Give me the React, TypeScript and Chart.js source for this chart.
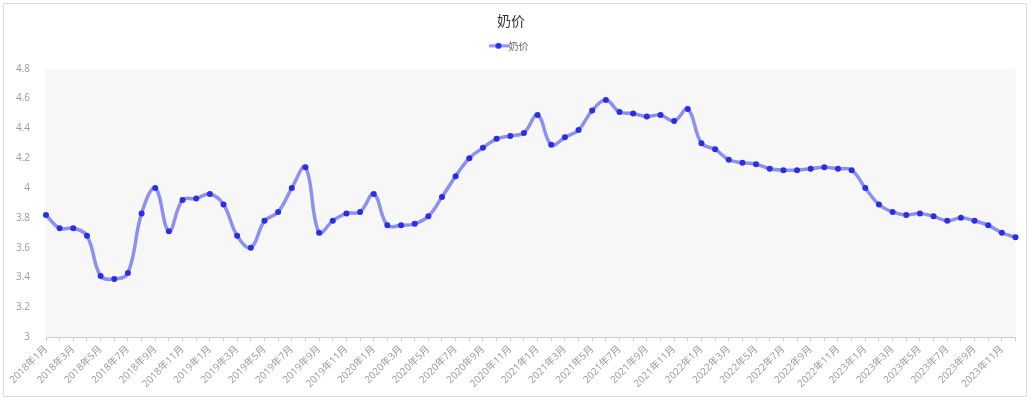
import React, { useEffect, useRef } from "react";
import { Chart, registerables } from "chart.js";

Chart.register(...registerables);

const years = [2018, 2019, 2020, 2021, 2022, 2023];
const months = [1, 2, 3, 4, 5, 6, 7, 8, 9, 10, 11, 12];
const categories: string[] = years.flatMap((y) => months.map((m) => `${y}年${m}月`));

const milkPrice = [
  3.82, 3.73, 3.73, 3.68, 3.41, 3.39, 3.43, 3.83, 4.0, 3.71, 3.92, 3.93,
  3.96, 3.89, 3.68, 3.6, 3.78, 3.84, 4.0, 4.14, 3.7, 3.78, 3.83, 3.84,
  3.96, 3.75, 3.75, 3.76, 3.81, 3.94, 4.08, 4.2, 4.27, 4.33, 4.35, 4.37,
  4.49, 4.29, 4.34, 4.39, 4.52, 4.59, 4.51, 4.5, 4.48, 4.49, 4.45, 4.53,
  4.3, 4.26, 4.19, 4.17, 4.16, 4.13, 4.12, 4.12, 4.13, 4.14, 4.13, 4.12,
  4.0, 3.89, 3.84, 3.82, 3.83, 3.81, 3.78, 3.8, 3.78, 3.75, 3.7, 3.67,
];

const seriesName = "奶价";
const FONT = "'Open Sans', 'Noto Sans CJK SC', sans-serif";
const LINE_COLOR = "rgba(105,109,235,0.75)";
const POINT_COLOR = "#2b2fe3";

const bgPlugin = {
  id: "plotBg",
  beforeDraw(chart: any) {
    const { ctx, chartArea } = chart;
    if (!chartArea) return;
    ctx.save();
    ctx.fillStyle = "#f7f7f8";
    ctx.fillRect(chartArea.left, chartArea.top, chartArea.right - chartArea.left, chartArea.bottom - chartArea.top);
    ctx.restore();
  },
};

const legendGapPlugin = {
  id: "legendGap",
  beforeInit(chart: any) {
    const legend = chart.legend;
    if (!legend) return;
    const orig = legend.fit;
    legend.fit = function () {
      orig.call(this);
      this.height += 8;
    };
  },
};

function legendSymbol(): HTMLCanvasElement {
  const c = document.createElement("canvas");
  const dpr = window.devicePixelRatio || 1;
  c.width = 20 * dpr;
  c.height = 8 * dpr;
  c.style.width = "20px";
  c.style.height = "8px";
  const g = c.getContext("2d")!;
  g.scale(dpr, dpr);
  g.strokeStyle = LINE_COLOR;
  g.lineWidth = 3;
  g.beginPath();
  g.moveTo(0, 4);
  g.lineTo(20, 4);
  g.stroke();
  g.fillStyle = POINT_COLOR;
  g.beginPath();
  g.arc(10, 4, 3, 0, Math.PI * 2);
  g.fill();
  return c;
}

export default function App() {
  const ref = useRef<HTMLCanvasElement>(null);
  useEffect(() => {
    if (!ref.current) return;
    const sym = legendSymbol();
    const chart = new Chart(ref.current, {
      type: "line",
      data: {
        labels: categories,
        datasets: [
          {
            label: seriesName,
            data: milkPrice,
            borderColor: LINE_COLOR,
            borderWidth: 3.5,
            tension: 0.4,
            pointRadius: 3,
            pointBackgroundColor: POINT_COLOR,
            pointBorderColor: POINT_COLOR,
            pointBorderWidth: 0,
            fill: false,
          },
        ],
      },
      options: {
        animation: false,
        responsive: true,
        maintainAspectRatio: false,
        layout: { padding: { left: 0, right: 8, top: 2, bottom: 4 } },
        plugins: {
          title: {
            display: true,
            text: "奶价",
            color: "#333",
            font: { family: "'Noto Sans CJK SC', sans-serif", size: 14, weight: "normal" },
            padding: { top: 6, bottom: 2 },
          },
          legend: {
            display: true,
            labels: {
              color: "#666",
              font: { family: "'Noto Sans CJK SC', sans-serif", size: 10 },
              usePointStyle: true,
              padding: 10,
              generateLabels: () => [
                {
                  text: seriesName,
                  pointStyle: sym as any,
                  fillStyle: POINT_COLOR,
                  strokeStyle: LINE_COLOR,
                  lineWidth: 0,
                  hidden: false,
                  datasetIndex: 0,
                  fontColor: "#666",
                } as any,
              ],
            },
          },
          tooltip: { enabled: false },
        },
        scales: {
          x: {
            grid: { display: true, drawOnChartArea: false, drawTicks: true, tickLength: 4, color: "#ccc" },
            border: { display: true, color: "#ccc" },
            ticks: {
              autoSkip: false,
              maxRotation: 45,
              minRotation: 45,
              color: "#999",
              font: { family: FONT, size: 10 },
              padding: 2,
              callback: (_v: any, i: number) => (i % 2 === 0 ? categories[i] : ""),
            },
          },
          y: {
            min: 3,
            max: 4.8,
            afterFit: (s: any) => { s.width = 42; },
            grid: { display: false },
            border: { display: false },
            ticks: {
              stepSize: 0.2,
              color: "#999",
              font: { family: FONT, size: 10 },
              padding: 8,
              callback: (v: any) => String(Number(Number(v).toFixed(1))),
            },
          },
        },
      },
      plugins: [bgPlugin, legendGapPlugin],
    });
    return () => chart.destroy();
  }, []);

  return (
    <div style={{ position: "fixed", left: 0, top: 0, width: 1033, height: 402, background: "#fff" }}>
      <div
        style={{
          position: "absolute",
          left: 3,
          top: 3,
          width: 1022,
          height: 392,
          border: "1px solid #ddd",
          boxSizing: "content-box",
        }}
      >
        <canvas ref={ref} />
      </div>
    </div>
  );
}
